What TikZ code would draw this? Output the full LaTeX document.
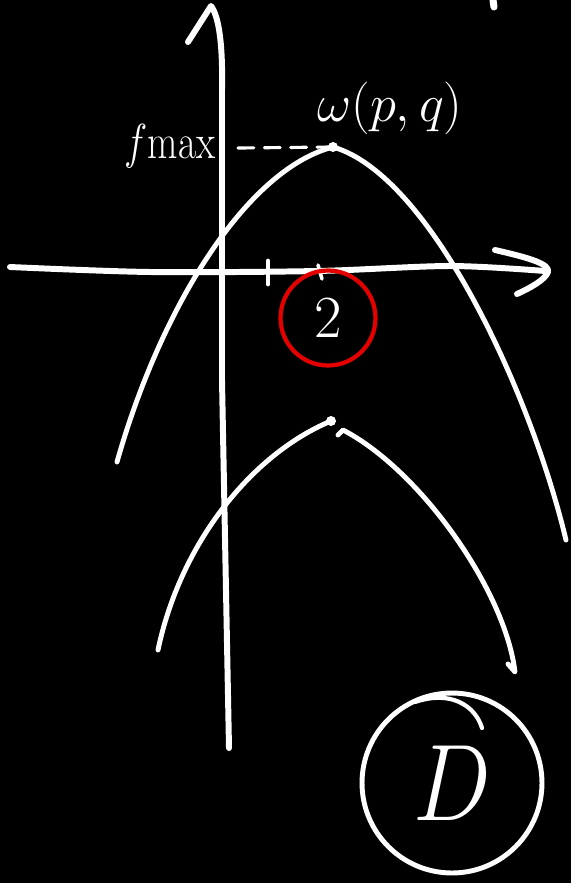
\documentclass[tikz,border=0pt]{standalone}
\usepackage{fix-cm}
\usepackage{graphicx}

\begin{document}
\begin{tikzpicture}[x=0.02cm, y=-0.02cm,
        chalk/.style={white, line width=2.8pt, line cap=round, line join=round},
        axis/.style={chalk, line width=3.4pt},
        redpen/.style={draw=red!90!black, line width=2.4pt, circle},
        hand/.style={text=white, inner sep=0pt}]

        \fill[black] (0,0) rectangle (571,883);
        \useasboundingbox (0,0) rectangle (571,883);

        % axes
        \draw[axis] (229,748) -- (222,380) -- (222,90) .. controls (223,40) and (218,15) .. (211,6) -- (188,42);
        \draw[axis] plot[smooth] coordinates {(10,267) (150,272) (317,271) (450,266) (545,271)};
        \draw[axis] (495,250) .. controls (530,258) and (550,264) .. (548,272) .. controls (545,280) and (530,288) .. (517,294);
        \draw[chalk] (268,261) -- (268,284);
        \draw[chalk, line width=2pt] (318,265) -- (322,279);

        % upper parabola
        \coordinate (top) at (333,147);
        \coordinate (ymax) at (238,148);
        \draw[chalk] (117,462) .. controls (160,310) and (245,170) .. (top)
                .. controls (430,175) and (530,390) .. (566,540);
        \fill[white] (top) circle (5);
        \draw[chalk, line width=1.8pt, dash pattern=on 9pt off 6pt] (ymax) -- (top);

        % lower parabola
        \coordinate (low) at (331,421);
        \draw[chalk] (low) .. controls (250,455) and (180,545) .. (158,650);
        \fill[white] (low) circle (5);
        \draw[chalk] (338,435) -- (343,430) .. controls (420,470) and (505,590) .. (515,672) -- (508,664);

        % labels
        \node[hand] (fmax) at (170,146) {\scalebox{0.8}[1]{\fontsize{28}{32}\selectfont $f$max}};
        \node[hand] (wpq) at (390,108) {\fontsize{30}{34}\selectfont $\omega(p,q)$};
        \node[hand, redpen, minimum size=1.9cm] (two) at (328,318) {\fontsize{34}{38}\selectfont 2};
        \node[hand, draw=white, line width=2.8pt, circle, minimum size=3.6cm] (ans) at (452,783) {\scalebox{0.85}[1]{\fontsize{62}{66}\selectfont $D$}};
        \draw[chalk, line width=2.4pt] (415,702) .. controls (450,690) and (475,705) .. (482,728);

        % stray mark
        \draw[chalk, line width=4pt] (493,0) -- (494,7);
\end{tikzpicture}
\end{document}
